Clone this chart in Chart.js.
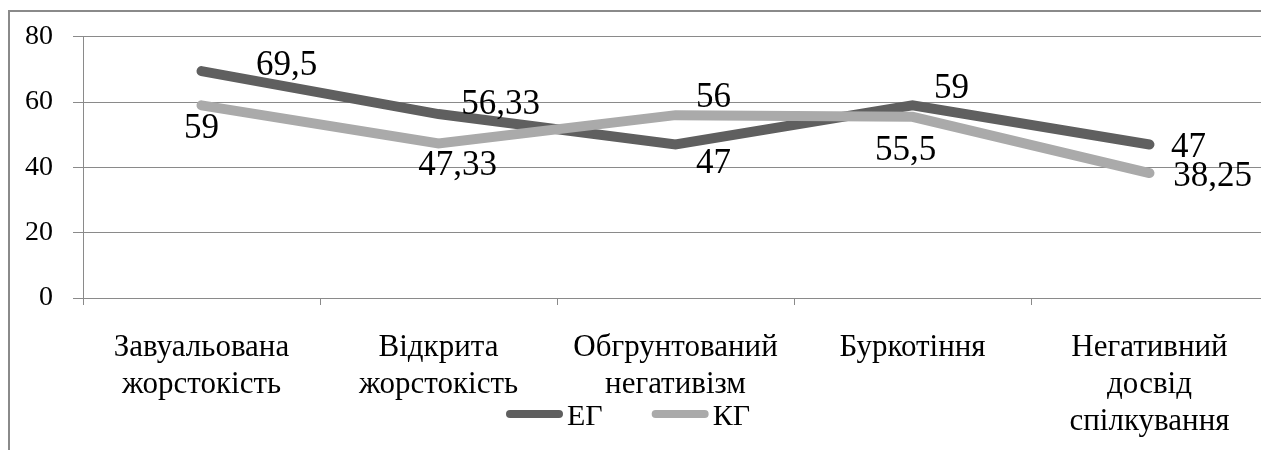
<!DOCTYPE html>
<html>
<head>
<meta charset="utf-8">
<script src="https://cdn.jsdelivr.net/npm/chart.js@4.4.1/dist/chart.umd.min.js"></script>
<style>
  html, body { margin: 0; padding: 0; background: #fff; overflow: hidden; }
  #wrap { position: relative; width: 1290px; height: 450px; }
  .edge { position: absolute; background: #8a8a8a; }
</style>
</head>
<body>
<div id="wrap">
  <canvas id="chart"></canvas>
  <div class="edge" style="left:8px; top:10px; width:1300px; height:2px;"></div>
  <div class="edge" style="left:8px; top:10px; width:2px; height:440px;"></div>
</div>
<script>
const categories = [
  ["Завуальована", "жорстокість"],
  ["Відкрита", "жорстокість"],
  ["Обгрунтований", "негативізм"],
  "Буркотіння",
  ["Негативний", "досвід", "спілкування"],
];
const egValues = [69.5, 56.33, 47, 59, 47];
const kgValues = [59, 47.33, 56, 55.5, 38.25];
const yTicks = [0, 20, 40, 60, 80];

const serif = '"Liberation Serif"';

// where each value label sits relative to its point (dx, dy to the digit centre)
const labelOffsets = [
  [[85, -8], [62, -12], [38, 16], [39, -19], [39, 0]],
  [[0, 21], [19, 20], [38, -20], [-7, 31], [63, 1]],
];

const valueLabels = {
  id: "valueLabels",
  afterDatasetsDraw(chart) {
    const ctx = chart.ctx;
    ctx.save();
    ctx.font = "35px " + serif;
    ctx.fillStyle = "#000";
    ctx.textAlign = "center";
    ctx.textBaseline = "alphabetic";
    chart.data.datasets.forEach((ds, i) => {
      chart.getDatasetMeta(i).data.forEach((pt, j) => {
        const [dx, dy] = labelOffsets[i][j];
        const txt = String(ds.data[j]).replace(".", ",");
        ctx.fillText(txt, pt.x + dx, pt.y + dy + 12);
      });
    });
    ctx.restore();
  },
};

const bottomLegend = {
  id: "bottomLegend",
  afterDraw(chart) {
    const ctx = chart.ctx;
    ctx.save();
    ctx.font = "30px " + serif;
    const lineLen = 57, gap = 4, between = 49;
    const items = chart.data.datasets.map(ds => ({
      ds, w: lineLen + gap + ctx.measureText(ds.label).width,
    }));
    const total = items.reduce((s, it) => s + it.w, 0) + between * (items.length - 1);
    let x = 628 - total / 2;
    const y = 414;
    items.forEach(it => {
      ctx.strokeStyle = it.ds.borderColor;
      ctx.lineWidth = 8;
      ctx.lineCap = "round";
      ctx.beginPath();
      ctx.moveTo(x + 4, y);
      ctx.lineTo(x + lineLen - 4, y);
      ctx.stroke();
      ctx.fillStyle = "#000";
      ctx.textBaseline = "alphabetic";
      ctx.textAlign = "left";
      ctx.fillText(it.ds.label, x + lineLen + gap, y + 11);
      x += it.w + between;
    });
    ctx.restore();
  },
};

new Chart(document.getElementById("chart"), {
  type: "line",
  data: {
    labels: categories,
    datasets: [
      {
        label: "ЕГ",
        data: egValues,
        borderColor: "#5f5f5f",
        borderWidth: 10,
        borderCapStyle: "round",
        borderJoinStyle: "miter",
        pointRadius: 0,
        tension: 0,
        fill: false,
        order: 1,
      },
      {
        label: "КГ",
        data: kgValues,
        borderColor: "#aaaaaa",
        borderWidth: 10,
        borderCapStyle: "round",
        borderJoinStyle: "miter",
        pointRadius: 0,
        tension: 0,
        fill: false,
        order: 0,
      },
    ],
  },
  options: {
    responsive: true,
    maintainAspectRatio: false,
    animation: false,
    layout: { padding: { left: 0, top: 31, right: 22, bottom: 0 } },
    plugins: {
      legend: { display: false },
      tooltip: { enabled: false },
    },
    scales: {
      x: {
        offset: true,
        afterFit: s => { s.height = 152; },
        grid: {
          display: true,
          offset: true,
          drawOnChartArea: false,
          tickLength: 7,
          color: "#8a8a8a",
        },
        border: { display: true, color: "#8a8a8a" },
        ticks: {
          color: "#000",
          padding: 24,
          maxRotation: 0,
          autoSkip: false,
          font: { family: serif, size: 31, lineHeight: 1.2 },
        },
      },
      y: {
        min: 0,
        max: 80,
        afterFit: s => { s.width = 83; },
        afterBuildTicks: s => { s.ticks = yTicks.map(v => ({ value: v })); },
        grid: { color: "#8a8a8a", tickLength: 10 },
        border: { display: true, color: "#8a8a8a" },
        ticks: {
          color: "#000",
          padding: 20,
          font: { family: serif, size: 28 },
        },
      },
    },
  },
  plugins: [valueLabels, bottomLegend],
});
</script>
</body>
</html>
